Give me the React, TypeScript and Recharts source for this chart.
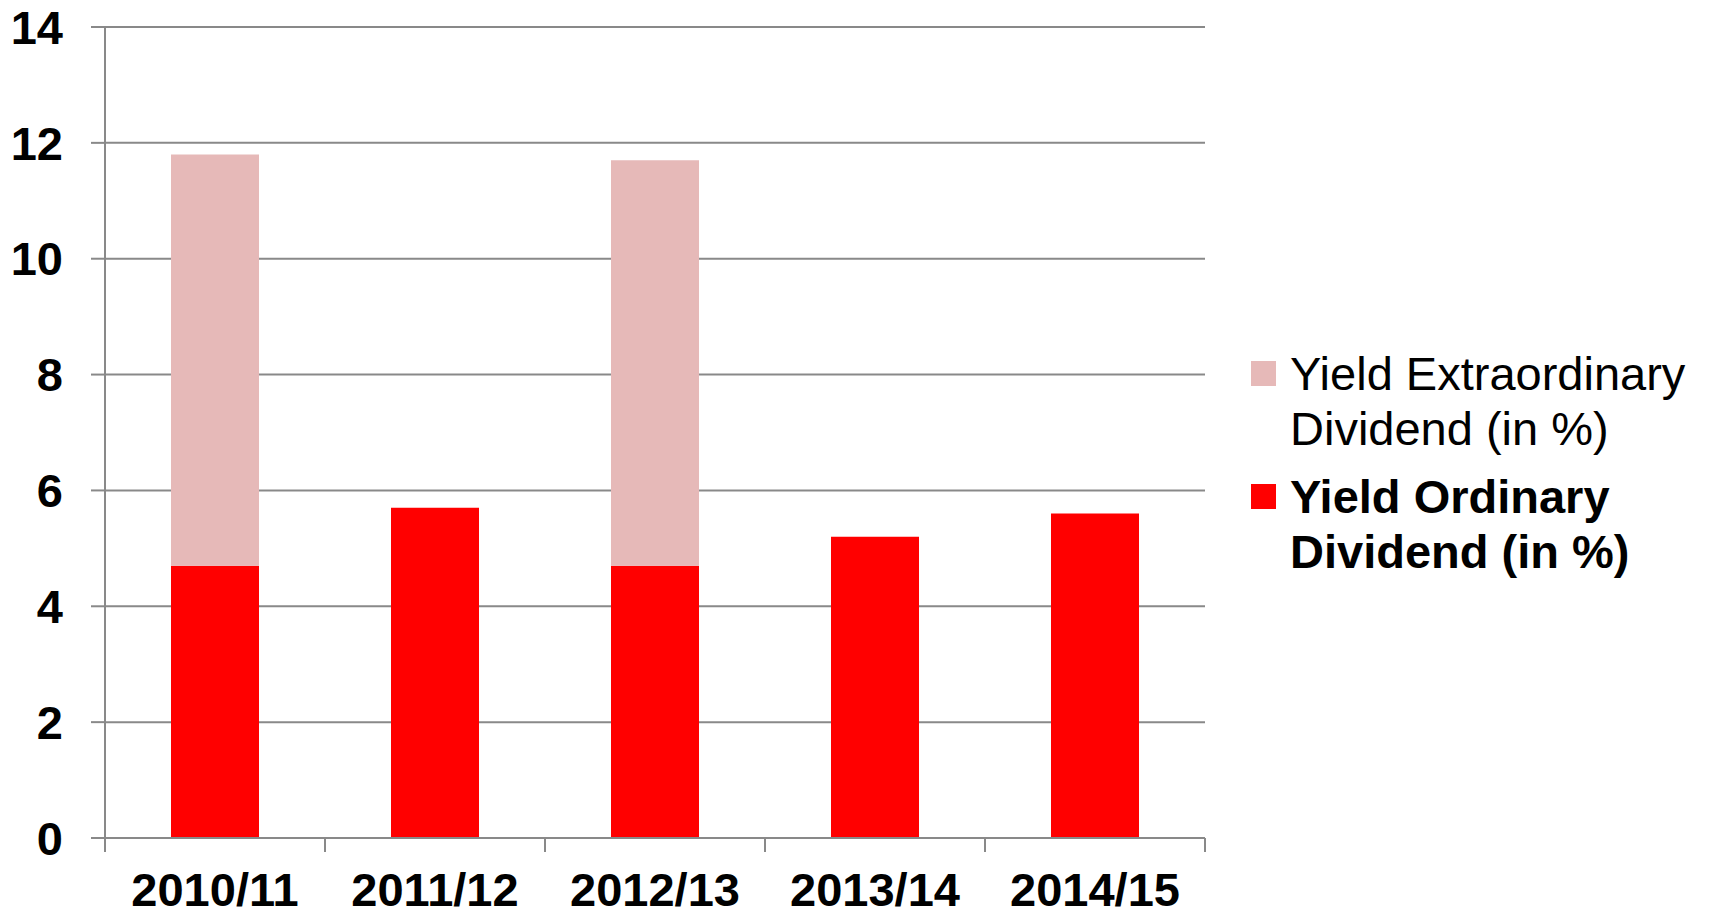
import React from 'react';
import { BarChart, Bar, XAxis, YAxis, CartesianGrid, Legend } from 'recharts';

const categories = ['2010/11', '2011/12', '2012/13', '2013/14', '2014/15'];
const ordinaryYield = [4.7, 5.7, 4.7, 5.2, 5.6];
const extraordinaryYield = [7.1, 0, 7.0, 0, 0];
const yTicks = [0, 2, 4, 6, 8, 10, 12, 14];
const ordinaryName = 'Yield Ordinary Dividend (in %)';
const extraName = 'Yield Extraordinary Dividend (in %)';

const data = categories.map((period, i) => ({
  period,
  ordinary: ordinaryYield[i],
  extra: extraordinaryYield[i],
}));

const FONT = '"Liberation Sans", Arial, Helvetica, sans-serif';
const GRID = '#898989';

// Category label plus tick marks on the category boundaries (half a band either side of the label)
const CategoryTick = (props: any) => {
  const { x, y, payload, index, visibleTicksCount } = props;
  const half = payload && payload.offset ? payload.offset : 0;
  const isLast = index === (visibleTicksCount ?? categories.length) - 1;
  return (
    <g>
      <line x1={x - half} x2={x - half} y1={y} y2={y + 14} stroke={GRID} strokeWidth={2} />
      {isLast && <line x1={x + half} x2={x + half} y1={y} y2={y + 14} stroke={GRID} strokeWidth={2} />}
      <text
        x={x}
        y={y + 35}
        dy="0.71em"
        textAnchor="middle"
        fill="#000"
        fontSize={47}
        fontWeight="bold"
        fontFamily={FONT}
      >
        {payload.value}
      </text>
    </g>
  );
};

const LegendContent = (props: any) => {
  const items = [...(props.payload || [])];
  items.sort((a: any, b: any) => (a.dataKey === 'extra' ? -1 : 0) - (b.dataKey === 'extra' ? -1 : 0));
  return (
    <div style={{ fontFamily: FONT, fontSize: 47, color: '#000' }}>
      {items.map((item: any, i: number) => (
        <div
          key={String(item.value)}
          style={{ display: 'flex', alignItems: 'flex-start', marginTop: i === 0 ? 0 : 13 }}
        >
          <div style={{ width: 25, height: 25, background: item.color, marginTop: 15, flexShrink: 0 }} />
          <div
            style={{
              marginLeft: 14,
              width: 430,
              lineHeight: '55px',
              fontWeight: item.dataKey === 'ordinary' ? 'bold' : 'normal',
            }}
          >
            {item.value}
          </div>
        </div>
      ))}
    </div>
  );
};

export default function App() {
  return (
    <div style={{ position: 'absolute', left: 0, top: 0, width: 1713, height: 915, background: '#fff' }}>
      <BarChart
        width={1713}
        height={915}
        data={data}
        margin={{ top: 27, right: 508, bottom: 0, left: 0 }}
        barCategoryGap="30%"
      >
        <CartesianGrid vertical={false} stroke={GRID} strokeWidth={2} />
        <XAxis
          dataKey="period"
          height={77}
          interval={0}
          axisLine={{ stroke: GRID, strokeWidth: 2 }}
          tickLine={false}
          tickSize={0}
          tickMargin={0}
          tick={<CategoryTick />}
        />
        <YAxis
          width={105}
          domain={[0, 14]}
          ticks={yTicks}
          interval={0}
          tickSize={14}
          tickMargin={28}
          axisLine={{ stroke: GRID, strokeWidth: 2 }}
          tickLine={{ stroke: GRID, strokeWidth: 2 }}
          tick={{ fill: '#000', fontSize: 47, fontWeight: 'bold', fontFamily: FONT }}
        />
        <Legend
          layout="vertical"
          align="center"
          verticalAlign="middle"
          content={LegendContent}
          wrapperStyle={{ left: 1251, top: 346, width: 462 }}
        />
        <Bar dataKey="ordinary" name={ordinaryName} stackId="a" fill="#FF0000" isAnimationActive={false} />
        <Bar dataKey="extra" name={extraName} stackId="a" fill="#E6B9B8" isAnimationActive={false} />
      </BarChart>
    </div>
  );
}
